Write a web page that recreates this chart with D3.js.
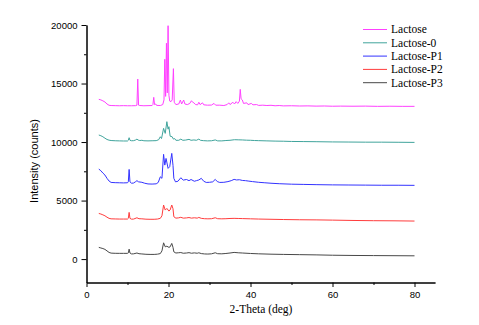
<!DOCTYPE html>
<html><head><meta charset="utf-8">
<script src="https://cdn.jsdelivr.net/npm/d3@7"></script>
<style>
html,body{margin:0;padding:0;background:#fff;}
svg{display:block;}
</style></head>
<body>
<svg id="chart" width="479" height="325"></svg>
<script>
const seriesNames = ["Lactose", "Lactose-0", "Lactose-P1", "Lactose-P2", "Lactose-P3"];
const seriesColors = ["#ff40ff", "#40a49c", "#3333ff", "#ff3c3c", "#484848"];
const xTicks = [0, 20, 40, 60, 80];
const yTicks = [0, 5000, 10000, 15000, 20000];

const lactose = [[3.0,13650],[3.5,13600],[4.0,13520],[4.5,13420],[5.0,13250],[5.5,13140],[6,13120],[7,13110],[8,13100],[9,13110],[10,13100],[11,13100],[12,13110],[12.3,13150],[12.5,15380],[12.7,13150],[13,13120],[14,13100],[15,13110],[16,13120],[16.2,13200],[16.4,13820],[16.6,13200],[16.9,13250],[17.1,13130],[18,13120],[18.6,13200],[18.9,13600],[19.1,17070],[19.3,13900],[19.5,18440],[19.7,14200],[19.9,19940],[20.1,14000],[20.3,13500],[20.6,13450],[20.9,13600],[21.2,16270],[21.4,13400],[21.8,13200],[22.5,13250],[22.9,13590],[23.2,13250],[23.7,13590],[24.0,13250],[24.6,13200],[25.2,13300],[25.6,13530],[25.9,13400],[26.2,13350],[26.6,13200],[27.1,13180],[27.4,13400],[27.7,13200],[28.3,13350],[28.6,13180],[29.5,13150],[30.5,13160],[31.1,13300],[31.5,13150],[32.5,13150],[33.5,13120],[34.3,13200],[34.7,13350],[35.0,13200],[35.7,13400],[36.1,13250],[36.5,13450],[36.9,13300],[37.3,13500],[37.5,14500],[37.7,13700],[38.0,13600],[38.3,13300],[39.1,13350],[39.4,13200],[40.2,13300],[40.6,13180],[41.5,13200],[42,13130],[43,13150],[44,13120],[45,13140],[46,13100],[47,13120],[48,13090],[50,13100],[52,13080],[54,13090],[56,13070],[58,13080],[60,13060],[62,13070],[65,13060],[68,13070],[71,13050],[74,13060],[77,13050],[80,13050]];

const lactose0 = [[3.0,10600],[3.5,10540],[4.0,10450],[4.5,10330],[5.0,10220],[5.5,10160],[6,10130],[7,10110],[8,10100],[9,10090],[10,10090],[10.2,10150],[10.4,10370],[10.6,10150],[11,10110],[11.5,10120],[12.0,10180],[12.3,10250],[12.6,10170],[13,10130],[13.5,10150],[14,10110],[15,10100],[16,10110],[17,10120],[17.6,10200],[18.0,10450],[18.3,10300],[18.8,11170],[19.2,10740],[19.6,11740],[19.9,11100],[20.1,11310],[20.4,10500],[20.9,10450],[21.2,10250],[21.5,10300],[21.8,10150],[22.5,10150],[23.0,10250],[23.5,10150],[24.2,10170],[25.0,10230],[25.5,10150],[26.2,10180],[26.8,10150],[27.4,10250],[27.8,10150],[28.5,10120],[29.5,10100],[30.5,10110],[31.4,10180],[32,10100],[33,10100],[34,10130],[35,10150],[36.1,10200],[37,10190],[38,10180],[39,10160],[40,10150],[41,10130],[42,10120],[44,10100],[46,10080],[48,10070],[50,10050],[53,10040],[56,10030],[60,10010],[64,10000],[68,9990],[72,9990],[76,9980],[80,9970]];

const lactoseP1 = [[3.0,7690],[3.5,7550],[4.0,7350],[4.5,7180],[5.0,6900],[5.5,6670],[6,6550],[7,6530],[8,6520],[9,6510],[10,6520],[10.2,6600],[10.4,7660],[10.6,6600],[11,6480],[11.5,6500],[12.0,6620],[12.3,6700],[12.7,6600],[13.5,6560],[14.2,6480],[15,6420],[16,6410],[17,6430],[17.5,6550],[18.0,7030],[18.4,6900],[18.8,8950],[19.1,8030],[19.4,8600],[19.9,7750],[20.3,7900],[20.8,9030],[21.1,8000],[21.3,6900],[21.7,6600],[22.3,6650],[23.0,6950],[23.6,6750],[24.4,6800],[25.0,6700],[25.5,6800],[26.3,6650],[26.8,6700],[27.4,6760],[28.0,6900],[28.6,6650],[29.2,6550],[30.0,6560],[30.8,6600],[31.4,6810],[31.9,6620],[32.5,6550],[33.5,6560],[34.5,6620],[35.3,6700],[36.0,6810],[36.6,6760],[37.3,6780],[38.0,6720],[38.8,6700],[39.6,6660],[40.5,6620],[42,6560],[43.5,6520],[45,6480],[47,6440],[50,6400],[53,6380],[56,6360],[60,6340],[64,6330],[68,6320],[72,6310],[76,6310],[80,6300]];

const lactoseP2 = [[3.0,3900],[3.5,3850],[4.0,3780],[4.5,3700],[5.0,3580],[5.5,3480],[6,3440],[7,3430],[8,3420],[9,3420],[10,3420],[10.2,3480],[10.4,3990],[10.6,3480],[11,3410],[11.5,3420],[12.3,3530],[12.8,3450],[13.5,3440],[14.5,3410],[15.5,3400],[16.5,3400],[17.3,3420],[18.0,3480],[18.4,3700],[18.8,4620],[19.2,4190],[19.6,4330],[20.1,4100],[20.4,4200],[20.8,4620],[21.1,4300],[21.3,3620],[21.8,3500],[22.4,3520],[23.0,3570],[23.6,3500],[24.4,3520],[25.0,3550],[25.6,3500],[26.3,3530],[27.0,3500],[27.4,3560],[28.0,3480],[28.8,3450],[29.6,3440],[30.5,3450],[31.4,3530],[32,3450],[33,3440],[34,3450],[35,3470],[36,3480],[37,3470],[38,3460],[40,3440],[42,3420],[45,3400],[48,3380],[52,3360],[56,3350],[60,3330],[65,3300],[70,3280],[75,3270],[80,3250]];

const lactoseP3 = [[3.0,1000],[3.5,950],[4.0,900],[4.5,830],[5.0,700],[5.5,570],[6,510],[7,495],[8,490],[9,490],[10,490],[10.2,530],[10.4,850],[10.6,520],[11,440],[11.5,450],[12.3,520],[12.8,460],[13.5,440],[14.5,410],[15.5,400],[16.5,400],[17.3,420],[18.0,470],[18.4,700],[18.8,1390],[19.2,1050],[19.6,1100],[20.1,1000],[20.4,1050],[20.8,1340],[21.1,1000],[21.3,620],[21.8,520],[22.4,540],[23.0,560],[23.6,500],[24.4,520],[25.0,550],[25.6,500],[26.3,530],[27.0,500],[27.4,540],[28.0,470],[28.8,440],[29.6,430],[30.5,450],[31.4,540],[32,460],[33,450],[34,480],[35,520],[36,570],[37,540],[38,520],[40,480],[42,450],[45,420],[48,400],[52,380],[56,360],[60,330],[65,310],[70,300],[75,290],[80,280]];

const allSeries = [lactose, lactose0, lactoseP1, lactoseP2, lactoseP3];

const svg = d3.select("#chart");
const x = d3.scaleLinear().domain([0, 85]).range([86.5, 435]);
const y = d3.scaleLinear().domain([-2000, 20000]).range([282.5, 25]);

// axes
const xAxisMinor = d3.axisBottom(x).tickValues([10,30,50,70]).tickSize(2.5).tickFormat("").tickSizeOuter(0);
const xAxis = d3.axisBottom(x).tickValues(xTicks).tickSize(4.5).tickSizeOuter(0).tickPadding(4).tickFormat(d3.format("d"));
const yAxisMinor = d3.axisLeft(y).tickValues([2500,7500,12500,17500]).tickSize(2.5).tickFormat("").tickSizeOuter(0);
const yAxis = d3.axisLeft(y).tickValues(yTicks).tickSize(5).tickSizeOuter(0).tickPadding(4).tickFormat(d3.format("d"));

const gx = svg.append("g").attr("transform", "translate(0,282.5)");
gx.call(xAxis);
gx.append("g").call(xAxisMinor);
const gy = svg.append("g").attr("transform", "translate(86.5,0)");
gy.call(yAxis);
gy.append("g").call(yAxisMinor);

svg.selectAll(".tick text").attr("font-family", "Liberation Sans, Arial, sans-serif").attr("font-size", 9.5).attr("fill", "#000");
svg.selectAll(".domain, .tick line").attr("stroke", "#000").attr("stroke-width", 1);

// lines
const line = d3.line().x(d => x(d[0])).y(d => y(d[1]));
svg.append("g").selectAll("path").data(allSeries).join("path")
  .attr("d", line)
  .attr("fill", "none")
  .attr("stroke", (d, i) => seriesColors[i])
  .attr("stroke-width", 1)
  .attr("stroke-linejoin", "round");

// titles
svg.append("text").attr("x", 261).attr("y", 313).attr("text-anchor", "middle")
  .attr("font-family", "Liberation Serif, Times New Roman, serif").attr("font-size", 11.5)
  .text("2-Theta (deg)");
svg.append("text").attr("transform", "translate(38,161) rotate(-90)").attr("text-anchor", "middle")
  .attr("font-family", "Liberation Sans, Arial, sans-serif").attr("font-size", 11)
  .text("Intensity (counts)");

// legend
const legend = svg.append("g").selectAll("g").data(seriesNames).join("g")
  .attr("transform", (d, i) => `translate(363,${29.5 + i * 13.3})`);
legend.append("line").attr("x1", 0).attr("x2", 24).attr("y1", 0).attr("y2", 0)
  .attr("stroke", (d, i) => seriesColors[i]).attr("stroke-width", 1);
legend.append("text").attr("x", 28).attr("y", 3.8)
  .attr("font-family", "Liberation Serif, Times New Roman, serif").attr("font-size", 11.5)
  .text(d => d);
</script>
</body></html>
